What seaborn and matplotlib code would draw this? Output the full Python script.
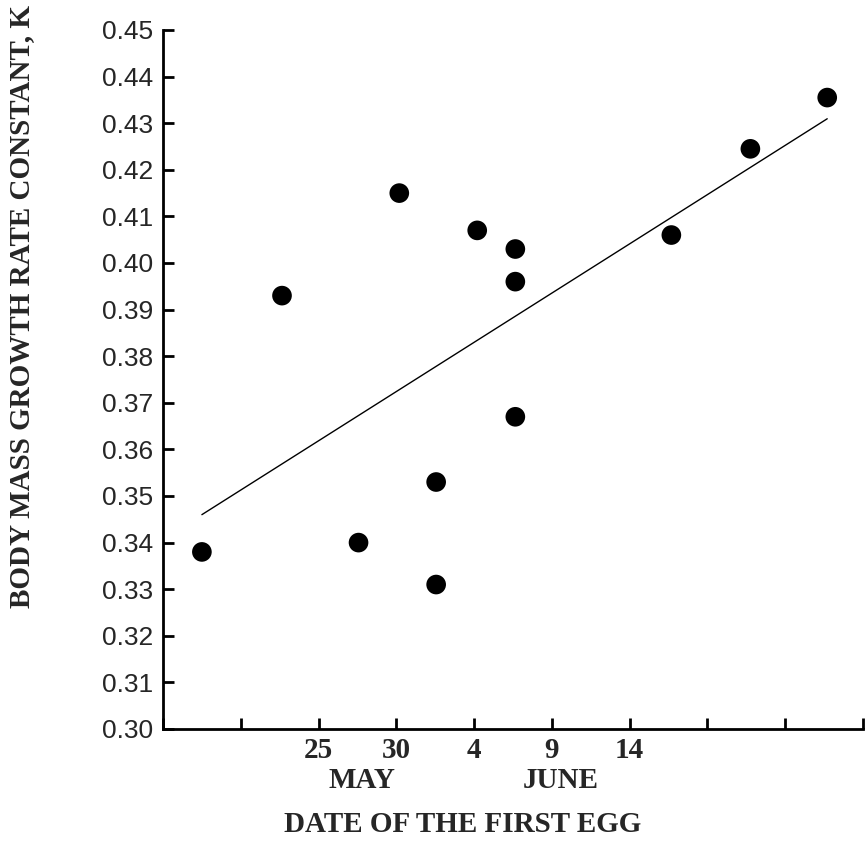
import matplotlib
matplotlib.use("Agg")
import matplotlib.pyplot as plt
import matplotlib.transforms as mtransforms
import seaborn as sns
import pandas as pd

# Day numbers counted from 1 May (June d -> 31 + d)
first_egg_day = [17.5, 22.65, 27.57, 30.19, 32.56, 32.56, 35.2, 37.65, 37.65, 37.65, 47.68, 52.76, 57.7]
growth_k = [0.338, 0.393, 0.340, 0.415, 0.353, 0.331, 0.407, 0.403, 0.396, 0.367, 0.406, 0.4245, 0.4355]

x_ticks = [15, 20, 25, 30, 35, 40, 45, 50, 55, 60]
x_tick_labels = ["", "", "25", "30", "4", "9", "14", "", "", ""]
y_ticks = [0.30, 0.31, 0.32, 0.33, 0.34, 0.35, 0.36, 0.37, 0.38, 0.39, 0.40, 0.41, 0.42, 0.43, 0.44, 0.45]
month_names = ["MAY", "JUNE"]
month_pos = [27.8, 40.6]

df = pd.DataFrame({"day": first_egg_day, "k": growth_k})

sns.set_style("ticks")
plt.rcParams["font.family"] = ["Liberation Sans", "DejaVu Sans"]

fig = plt.figure(figsize=(8.67, 8.42), dpi=100)
ax = fig.add_axes([163 / 867, 1 - 729 / 842, (863 - 163) / 867, (729 - 30) / 842])

sns.regplot(data=df, x="day", y="k", ax=ax, ci=None, truncate=True,
            scatter_kws=dict(s=200, color="black", edgecolor="none", alpha=1, zorder=3),
            line_kws=dict(color="black", linewidth=1.0))

ax.set_xlim(15, 60)
ax.set_ylim(0.30, 0.45)
ax.set_xticks(x_ticks)
ax.set_xticklabels(x_tick_labels, family="Liberation Serif", fontweight="bold", fontsize=21)
ax.set_yticks(y_ticks)
ax.set_yticklabels([f"{v:.2f}" for v in y_ticks], family="Liberation Sans", fontsize=19)

# small horizontal nudges of the printed day labels (pixels)
label_dx = [0, 0, -12, -12, -2, -2, -2, 0, 0, 0]
for lab, dx in zip(ax.get_xticklabels(), label_dx):
    lab.set_transform(lab.get_transform() + mtransforms.ScaledTranslation(dx / 100, 0, fig.dpi_scale_trans))

for s in ["top", "right"]:
    ax.spines[s].set_visible(False)
for s in ["left", "bottom"]:
    ax.spines[s].set_linewidth(2.0)
    ax.spines[s].set_color("black")

ax.tick_params(axis="both", direction="in", length=8, width=2.0, color="black")
ax.tick_params(axis="y", pad=7)
ax.tick_params(axis="x", pad=6)

trans = mtransforms.blended_transform_factory(ax.transData, fig.transFigure)
for name, pos in zip(month_names, month_pos):
    ax.text(pos, 1 - 780 / 842, name, transform=trans, ha="center", va="center",
            family="Liberation Serif", fontweight="bold", fontsize=21)

fig.text(463 / 867, 1 - 824 / 842, "DATE OF THE FIRST EGG", ha="center", va="center",
         family="Liberation Serif", fontweight="bold", fontsize=21)
fig.text(22 / 867, 1 - 306 / 842, "BODY MASS GROWTH RATE CONSTANT, K", ha="center", va="center",
         rotation=90, family="Liberation Serif", fontweight="bold", fontsize=21)
ax.set_xlabel("")
ax.set_ylabel("")

fig.savefig("out.png", dpi=100)
